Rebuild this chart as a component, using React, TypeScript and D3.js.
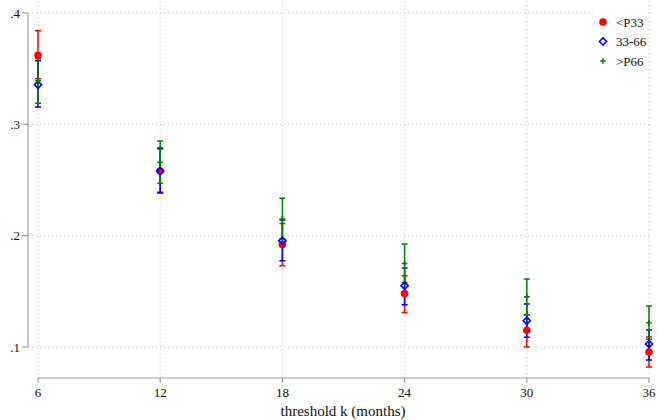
import React from "react";
import * as d3 from "d3";

const WIDTH = 657;
const HEIGHT = 420;

const months = [6, 12, 18, 24, 30, 36];
const yTicks = [0.1, 0.2, 0.3, 0.4];
const yTickLabels = [".1", ".2", ".3", ".4"];

// <P33
const lowMean = [0.362, 0.258, 0.192, 0.148, 0.115, 0.0955];
const lowLo = [0.341, 0.238, 0.173, 0.131, 0.1, 0.082];
const lowHi = [0.384, 0.279, 0.211, 0.164, 0.129, 0.109];
// 33-66
const midMean = [0.3355, 0.258, 0.1955, 0.155, 0.1236, 0.1027];
const midLo = [0.3156, 0.239, 0.1775, 0.138, 0.1087, 0.0883];
const midHi = [0.357, 0.278, 0.214, 0.171, 0.1386, 0.1153];
// >P66
const highMean = [0.339, 0.266, 0.215, 0.175, 0.145, 0.1218];
const highLo = [0.319, 0.247, 0.197, 0.158, 0.129, 0.107];
const highHi = [0.359, 0.285, 0.2336, 0.1925, 0.161, 0.1368];

const seriesNames = ["<P33", "33-66", ">P66"];
const seriesColors = ["#ff0000", "#0000ff", "#008000"];

const FONT = "'Liberation Serif', 'Times New Roman', serif";

const x = d3.scaleLinear().domain([6, 36]).range([38, 649]);
const y = d3.scaleLinear().domain([0.1, 0.4]).range([347, 13]);

const series = [
    {mean: lowMean, lo: lowLo, hi: lowHi},
    {mean: midMean, lo: midLo, hi: midHi},
    {mean: highMean, lo: highLo, hi: highHi},
];

const Marker = ({kind, cx, cy, color}: {kind: number; cx: number; cy: number; color: string}) => {
    if (kind === 0) return <circle cx={cx} cy={cy} r={3.8} fill={color}/>;
    if (kind === 1) {
        const s = 3.6;
        return <path d={`M${cx},${cy - s}L${cx + s},${cy}L${cx},${cy + s}L${cx - s},${cy}Z`}
                     fill="none" stroke={color} strokeWidth={1.6}/>;
    }
    return <path d={`M${cx - 2.8},${cy}H${cx + 2.8}M${cx},${cy - 2.8}V${cy + 2.8}`}
                 stroke={color} strokeWidth={1.6}/>;
};

export default function App() {
    const x0 = 28;
    const xAxisY = 378;
    const capW = 3;

    return (
        <svg width={WIDTH} height={HEIGHT}
             style={{position: "absolute", left: 0, top: 0, background: "#fff"}}>
            {/* grid */}
            <g stroke="#c8c8c8" strokeWidth={1} strokeDasharray="1,3">
                {yTicks.map((t) => (
                    <line key={"gy" + t} x1={x0} x2={652} y1={y(t)} y2={y(t)}/>
                ))}
                {months.map((m) => (
                    <line key={"gx" + m} x1={x(m)} x2={x(m)} y1={1} y2={xAxisY}/>
                ))}
            </g>

            {/* axes */}
            <g stroke="#a0a0a0" strokeWidth={1.2}>
                <line x1={x0} x2={x0} y1={y(0.4)} y2={y(0.1)}/>
                {yTicks.map((t) => (
                    <line key={"ty" + t} x1={x0 - 6} x2={x0} y1={y(t)} y2={y(t)}/>
                ))}
                <line x1={x(6)} x2={x(36)} y1={xAxisY} y2={xAxisY}/>
                {months.map((m) => (
                    <line key={"tx" + m} x1={x(m)} x2={x(m)} y1={xAxisY} y2={xAxisY + 5}/>
                ))}
            </g>
            <g fontFamily={FONT} fontSize={13} fill="#111">
                {yTicks.map((t, i) => (
                    <text key={"ly" + t} x={x0 - 8} y={y(t)} dy="0.35em" textAnchor="end">{yTickLabels[i]}</text>
                ))}
                {months.map((m) => (
                    <text key={"lx" + m} x={x(m)} y={397} textAnchor="middle">{m}</text>
                ))}
            </g>
            <text x={343} y={416} textAnchor="middle" fontFamily={FONT} fontSize={15} fill="#111">
                threshold k (months)
            </text>

            {/* confidence intervals */}
            {series.map((s, si) => (
                <g key={"ci" + si} stroke={seriesColors[si]} strokeWidth={1.5}>
                    {months.map((m, i) => (
                        <path key={m}
                              d={`M${x(m) - capW},${y(s.hi[i])}H${x(m) + capW}M${x(m)},${y(s.hi[i])}V${y(s.lo[i])}M${x(m) - capW},${y(s.lo[i])}H${x(m) + capW}`}
                              fill="none"/>
                    ))}
                </g>
            ))}

            {/* point estimates */}
            {series.map((s, si) => (
                <g key={"pt" + si}>
                    {months.map((m, i) => (
                        <Marker key={m} kind={si} cx={x(m)} cy={y(s.mean[i])} color={seriesColors[si]}/>
                    ))}
                </g>
            ))}

            {/* legend */}
            <rect x={594} y={4} width={53} height={68} fill="#fff"/>
            {seriesNames.map((name, i) => (
                <g key={name}>
                    <Marker kind={i} cx={603} cy={22 + i * 19.5} color={seriesColors[i]}/>
                    <text x={616} y={22 + i * 19.5} dy="0.35em" fontFamily={FONT} fontSize={13} fill="#111">{name}</text>
                </g>
            ))}
        </svg>
    );
}
